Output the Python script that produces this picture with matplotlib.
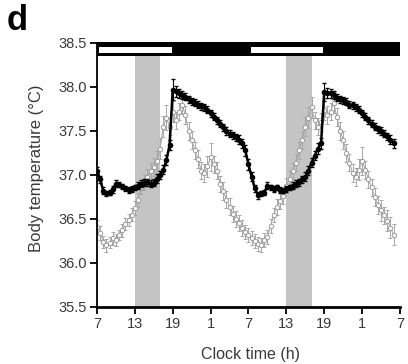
import matplotlib
matplotlib.use('Agg')
import matplotlib.pyplot as plt
import numpy as np

plt.rcParams['font.family'] = ['Liberation Sans', 'DejaVu Sans']

# hours since 07:00 on day 1, half-hour bins
hours = np.arange(0, 47.5, 0.5)

# black series (filled circles)
temp_black = [
    37.05, 36.95, 36.82, 36.79, 36.80, 36.84, 36.90, 36.89, 36.87, 36.85,
    36.83, 36.84, 36.86, 36.88, 36.90, 36.91, 36.92, 36.90, 36.91, 36.96,
    37.00, 37.06, 37.17, 37.34, 37.97, 37.95, 37.93, 37.91, 37.89, 37.86,
    37.84, 37.82, 37.80, 37.78, 37.77, 37.74, 37.70, 37.66, 37.62, 37.58,
    37.54, 37.50, 37.47, 37.45, 37.43, 37.40, 37.36, 37.28, 37.12, 36.98,
    36.85, 36.77, 36.79, 36.80, 36.88, 36.86, 36.84, 36.86, 36.83, 36.82,
    36.84, 36.86, 36.88, 36.90, 36.92, 36.95, 36.98, 37.05, 37.14, 37.22,
    37.30, 37.36, 37.94, 37.93, 37.93, 37.91, 37.88, 37.86, 37.85, 37.83,
    37.80, 37.79, 37.77, 37.74, 37.70, 37.66, 37.62, 37.58, 37.55, 37.52,
    37.50, 37.47, 37.44, 37.40, 37.36,
]
err_black = [
    0.04, 0.04, 0.04, 0.03, 0.03, 0.04, 0.04, 0.03, 0.03, 0.03,
    0.03, 0.03, 0.03, 0.04, 0.04, 0.04, 0.04, 0.04, 0.04, 0.05,
    0.05, 0.05, 0.06, 0.06, 0.12, 0.06, 0.05, 0.05, 0.04, 0.04,
    0.04, 0.04, 0.04, 0.04, 0.04, 0.04, 0.04, 0.04, 0.04, 0.04,
    0.04, 0.04, 0.04, 0.04, 0.04, 0.05, 0.05, 0.06, 0.06, 0.05,
    0.04, 0.04, 0.03, 0.03, 0.04, 0.03, 0.03, 0.03, 0.03, 0.03,
    0.03, 0.03, 0.04, 0.04, 0.04, 0.04, 0.05, 0.05, 0.05, 0.05,
    0.06, 0.06, 0.10, 0.06, 0.05, 0.05, 0.04, 0.04, 0.04, 0.04,
    0.04, 0.04, 0.04, 0.04, 0.04, 0.04, 0.04, 0.04, 0.04, 0.04,
    0.04, 0.04, 0.04, 0.05, 0.05,
]

# grey series (open circles)
temp_grey = [
    36.41, 36.34, 36.24, 36.20, 36.23, 36.28, 36.26, 36.32, 36.37, 36.44,
    36.49, 36.55, 36.62, 36.72, 36.86, 36.92, 36.98, 37.04, 37.09, 37.16,
    37.30, 37.55, 37.65, 37.55, 37.72, 37.62, 37.72, 37.80, 37.68, 37.50,
    37.40, 37.28, 37.18, 37.05, 37.02, 37.10, 37.20, 37.12, 37.05, 36.90,
    36.82, 36.72, 36.64, 36.56, 36.50, 36.45, 36.40, 36.35, 36.32, 36.28,
    36.25, 36.22, 36.20, 36.26, 36.30, 36.42, 36.55, 36.64, 36.70, 36.76,
    36.88, 36.96, 37.05, 37.14, 37.28, 37.40, 37.55, 37.65, 37.77, 37.62,
    37.55, 37.60, 37.74, 37.68, 37.72, 37.82, 37.66, 37.50, 37.40, 37.25,
    37.14, 37.02, 36.98, 37.06, 37.16, 37.06, 36.95, 36.86, 36.75, 36.66,
    36.60, 36.54, 36.48, 36.40, 36.32,
]
err_grey = [
    0.08, 0.08, 0.07, 0.07, 0.06, 0.07, 0.07, 0.06, 0.07, 0.07,
    0.07, 0.07, 0.08, 0.08, 0.08, 0.09, 0.09, 0.10, 0.10, 0.11,
    0.12, 0.12, 0.14, 0.10, 0.12, 0.10, 0.10, 0.11, 0.10, 0.10,
    0.10, 0.10, 0.10, 0.10, 0.10, 0.12, 0.16, 0.10, 0.10, 0.09,
    0.10, 0.10, 0.10, 0.09, 0.09, 0.09, 0.09, 0.08, 0.08, 0.08,
    0.08, 0.08, 0.08, 0.08, 0.08, 0.08, 0.08, 0.09, 0.09, 0.09,
    0.09, 0.09, 0.09, 0.10, 0.10, 0.10, 0.11, 0.12, 0.12, 0.10,
    0.10, 0.10, 0.12, 0.10, 0.10, 0.12, 0.10, 0.10, 0.10, 0.10,
    0.10, 0.10, 0.10, 0.12, 0.16, 0.10, 0.10, 0.10, 0.10, 0.10,
    0.12, 0.10, 0.12, 0.12, 0.12,
]

tick_hours = [0, 6, 12, 18, 24, 30, 36, 42, 48]
tick_labels = ['7', '13', '19', '1', '7', '13', '19', '1', '7']
shaded = [(6, 10), (30, 34)]          # grey bands (13:00-17:00)
light_phases = [(0, 12), (24, 36)]    # white parts of the light/dark bar

fig = plt.figure(figsize=(4.08, 3.64), dpi=100)
ax = fig.add_axes([0.2377, 0.1566, 0.7426, 0.7253])

bar_lo, bar_hi = 38.35, 38.51
for a, b in shaded:
    ax.axvspan(a, b, ymin=0, ymax=(bar_lo - 35.5) / 3.0, color='#c4c4c4', lw=0, zorder=0)

ax.fill_between([0, 48], bar_lo, bar_hi, color='black', lw=0, zorder=5, clip_on=False)
for a, b in light_phases:
    ax.fill_between([a + 0.35, b - 0.15], 38.386, 38.455, color='white', lw=0, zorder=6, clip_on=False)

ax.errorbar(hours, temp_grey, yerr=err_grey, color='#a8a8a8', lw=0.8, marker='o',
            ms=3.2, mfc='white', mec='#9a9a9a', mew=0.7, elinewidth=0.7, capsize=1.5,
            capthick=0.7, zorder=2)
ax.errorbar(hours, temp_black, yerr=err_black, color='black', lw=1.8, marker='o',
            ms=3.0, mfc='black', mec='black', elinewidth=0.8, capsize=1.2, zorder=3)

ax.set_xlim(0, 48)
ax.set_ylim(35.5, 38.5)
ax.set_xticks(tick_hours)
ax.set_xticklabels(tick_labels)
ax.set_yticks([35.5, 36.0, 36.5, 37.0, 37.5, 38.0, 38.5])
ax.set_yticklabels(['35.5', '36.0', '36.5', '37.0', '37.5', '38.0', '38.5'])
ax.tick_params(direction='out', length=5, width=1.3, labelsize=10.5, pad=2,
               colors='black', labelcolor='#3a3a3a')
for s in ['top', 'right']:
    ax.spines[s].set_visible(False)
ax.spines['left'].set_linewidth(1.3)
ax.spines['bottom'].set_linewidth(2.0)
ax.spines['left'].set_bounds(35.5, 38.5)

fig.text(37 / 408, (364 - 168) / 364, 'Body temperature (\u00b0C)', rotation=90,
         ha='center', va='center', fontsize=12, color='#3a3a3a')
fig.text(250 / 408, (364 - 354) / 364, 'Clock time (h)', ha='center', va='center',
         fontsize=11.5, color='#3a3a3a')
fig.text(7 / 408, (364 - 21) / 364, 'd', ha='left', va='center', fontsize=25,
         fontweight='bold')

fig.savefig('out.png', dpi=100)
